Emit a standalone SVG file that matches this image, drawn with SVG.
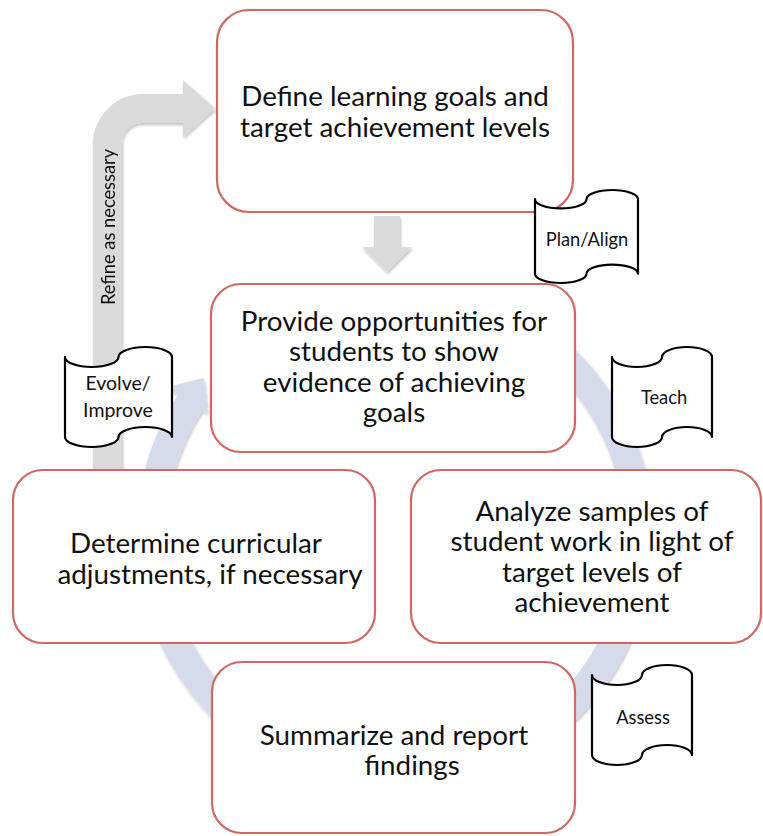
<svg xmlns="http://www.w3.org/2000/svg" width="763" height="836" viewBox="0 0 763 836">
<style>
.box{fill:#fff;stroke:#cf6762;stroke-width:2.2}
.bn{fill:#fff;stroke:#000;stroke-width:2.2;stroke-linejoin:round}
.t{font-family:Lato,"Liberation Sans",sans-serif;font-size:27.8px;fill:#111;text-anchor:middle}
.s{font-family:Lato,"Liberation Sans",sans-serif;font-size:18.3px;fill:#111;text-anchor:middle}
.gray{fill:#dadada}
</style>
<defs>
<filter id="sh" x="-20%" y="-20%" width="140%" height="140%">
<feDropShadow dx="1" dy="2" stdDeviation="1.5" flood-color="#000" flood-opacity="0.25"/>
</filter>
</defs>
<rect width="763" height="836" fill="#fff"/>
<g id="connectors">
<g id="cycle" filter="url(#sh)" fill="#d5dbea">
<path d="M 517 323.7 A 244 244 0 1 1 190.4 402.1" fill="none" stroke="#d5dbea" stroke-width="29"/>
<polygon points="166.9,386.9 203.7,377.9 207.8,414.1"/>
</g>
<g id="refine" filter="url(#sh)">
<path class="gray" d="M 93 470 L 93 144 A 50 50 0 0 1 143 94 L 183 94 L 183 80 L 215 108.5 L 183 137 L 183 123 L 143 123 A 20 20 0 0 0 122 143 L 122 470 Z"/>
<text class="s" transform="translate(115,227) rotate(-90)">Refine as necessary</text>
</g>
<path id="down" class="gray" filter="url(#sh)" d="M 374 216 L 400 216 L 400 247 L 412 247 L 387 272 L 362 247 L 374 247 Z"/>
</g>
<g id="n1"><rect class="box" x="217" y="10" width="356" height="202" rx="32"/>
<text class="t" x="395" y="106">Define learning goals and</text>
<text class="t" x="395" y="137">target achievement levels</text></g>
<g id="n2"><rect class="box" x="211" y="284" width="364" height="168" rx="30"/>
<text class="t" x="394" y="331">Provide opportunities for</text>
<text class="t" x="394" y="361">students to show</text>
<text class="t" x="394" y="392">evidence of achieving</text>
<text class="t" x="394" y="422">goals</text></g>
<g id="n3"><rect class="box" x="13" y="470" width="362" height="173" rx="30"/>
<text class="t" x="196" y="553">Determine curricular</text>
<text class="t" x="210" y="584">adjustments, if necessary</text></g>
<g id="n4"><rect class="box" x="411" y="470" width="350" height="173" rx="30"/>
<text class="t" x="592" y="521">Analyze samples of</text>
<text class="t" x="592" y="551">student work in light of</text>
<text class="t" x="592" y="582">target levels of</text>
<text class="t" x="592" y="612">achievement</text></g>
<g id="n5"><rect class="box" x="212" y="662" width="363" height="171" rx="30"/>
<text class="t" x="394" y="745">Summarize and report</text>
<text class="t" x="412" y="775">findings</text></g>
<g id="b1"><path class="bn" d="M535,199.2 A25.75,9.2 0 0 0 586.5,199.2 A25.75,9.2 0 0 1 638,199.2 L638,273.8 A25.75,9.2 0 0 0 586.5,273.8 A25.75,9.2 0 0 1 535,273.8 Z"/>
<text class="s" x="587" y="246">Plan/Align</text></g>
<g id="b2"><path class="bn" d="M612,357 A25,10 0 0 0 662,357 A25,10 0 0 1 712,357 L712,437 A25,10 0 0 0 662,437 A25,10 0 0 1 612,437 Z"/>
<text class="s" x="664" y="404">Teach</text></g>
<g id="b3"><path class="bn" d="M65,357 A26.75,10 0 0 0 118.5,357 A26.75,10 0 0 1 172,357 L172,437 A26.75,10 0 0 0 118.5,437 A26.75,10 0 0 1 65,437 Z"/>
<text class="s" style="font-size:19.5px" x="118" y="390">Evolve/</text>
<text class="s" style="font-size:19.5px" x="118" y="417">Improve</text></g>
<g id="b4"><path class="bn" d="M592,675 A25,10 0 0 0 642,675 A25,10 0 0 1 692,675 L692,755 A25,10 0 0 0 642,755 A25,10 0 0 1 592,755 Z"/>
<text class="s" x="643" y="724">Assess</text></g>
</svg>
